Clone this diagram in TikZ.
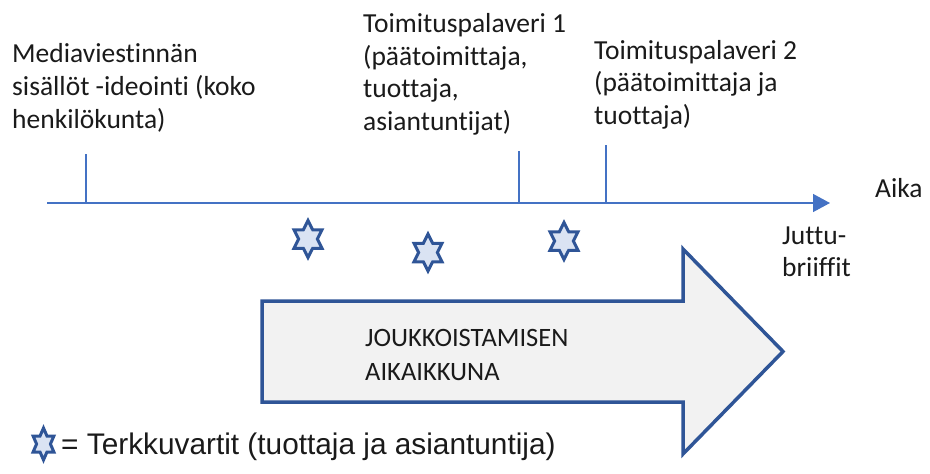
\documentclass[tikz,border=0pt]{standalone}
\usepackage{fontspec}
\setmainfont{Carlito}[Ligatures=NoCommon]
\newfontfamily\legendfont{Liberation Sans}
\usetikzlibrary{arrows.meta}

\definecolor{axisblue}{HTML}{4472C4}
\definecolor{darkblue}{HTML}{2F5597}
\definecolor{starfill}{HTML}{DAE3F3}
\definecolor{arrowfill}{HTML}{F2F2F2}
\definecolor{inkgray}{HTML}{1A1A1A}

\tikzset{
  % multi-line labels are placed by the baseline of their last line
  labeltext/.style={anchor=base west, align=left, inner sep=0pt, text=inkgray,
    font=\fontsize{27.5}{33}\selectfont},
  ticks/.style={draw=axisblue, line width=1.4pt},
  axisline/.style={draw=axisblue, line width=1.4pt, -{Triangle[length=17pt,width=18pt]}},
  blockarrow/.style={draw=darkblue, fill=arrowfill, line width=3.5pt, line join=miter},
  % six-pointed star of unit radius, stretched by the pic's scale
  hexstar/.pic={
    \draw[draw=darkblue, fill=starfill, line width=3pt, line join=miter]
      (90:1) -- (120:0.5774) -- (150:1) -- (180:0.5774) -- (210:1) -- (240:0.5774)
      -- (270:1) -- (300:0.5774) -- (330:1) -- (0:0.5774) -- (30:1) -- (60:0.5774) -- cycle;
  }
}

\begin{document}
\begin{tikzpicture}[x=1pt, y=-1pt]
  \useasboundingbox (0,0) rectangle (930,474);

  % time axis
  \coordinate (t0) at (47,203);
  \coordinate (tend) at (830,203);
  \draw[axisline] (t0) -- (tend);

  % milestone ticks
  \coordinate (k1) at (86,154);
  \coordinate (k2) at (519,151);
  \coordinate (k3) at (606,145);
  \draw[ticks] (k1) -- (k1 |- t0);
  \draw[ticks] (k2) -- (k2 |- t0);
  \draw[ticks] (k3) -- (k3 |- t0);

  % milestone texts
  \node[labeltext] (ideointi) at (12,128)
    {Mediaviestinnän\\sisällöt -ideointi (koko\\henkilökunta)};
  \node[labeltext, font=\fontsize{27.5}{32.4}\selectfont] (palaveri1) at (363,130)
    {Toimituspalaveri 1\\(päätoimittaja,\\tuottaja,\\asiantuntijat)};
  \node[labeltext, font=\fontsize{27.5}{32.5}\selectfont] (palaveri2) at (594,124)
    {Toimituspalaveri 2\\(päätoimittaja ja\\tuottaja)};
  \node[labeltext] (aika) at (875,197) {Aika};
  \node[labeltext, font=\fontsize{27.5}{32}\selectfont] (briiffit) at (782,276)
    {Juttu-\\briiffit};

  % crowdsourcing window
  \draw[blockarrow] (262,301) -- (683,301) -- (683,249) -- (783,351.5)
    -- (683,454) -- (683,402) -- (262,402) -- cycle;
  \node[labeltext, font=\fontsize{26.5}{34}\selectfont] (ikkuna) at (365,380)
    {JOUKKOISTAMISEN\\AIKAIKKUNA};

  % short consultations
  \pic (s1) at (308,239) [xscale=16.2, yscale=18.5] {hexstar};
  \pic (s2) at (428,252.5) [xscale=16.2, yscale=18.5] {hexstar};
  \pic (s3) at (564,241) [xscale=16.2, yscale=18.5] {hexstar};

  % legend
  \pic (sl) at (43.5,444) [xscale=12, yscale=16] {hexstar};
  \node[anchor=base west, inner sep=0pt, text=inkgray,
    font=\legendfont\fontsize{29.8}{34}\selectfont] (legend) at (61,454)
    {= Terkkuvartit (tuottaja ja asiantuntija)};
\end{tikzpicture}
\end{document}
